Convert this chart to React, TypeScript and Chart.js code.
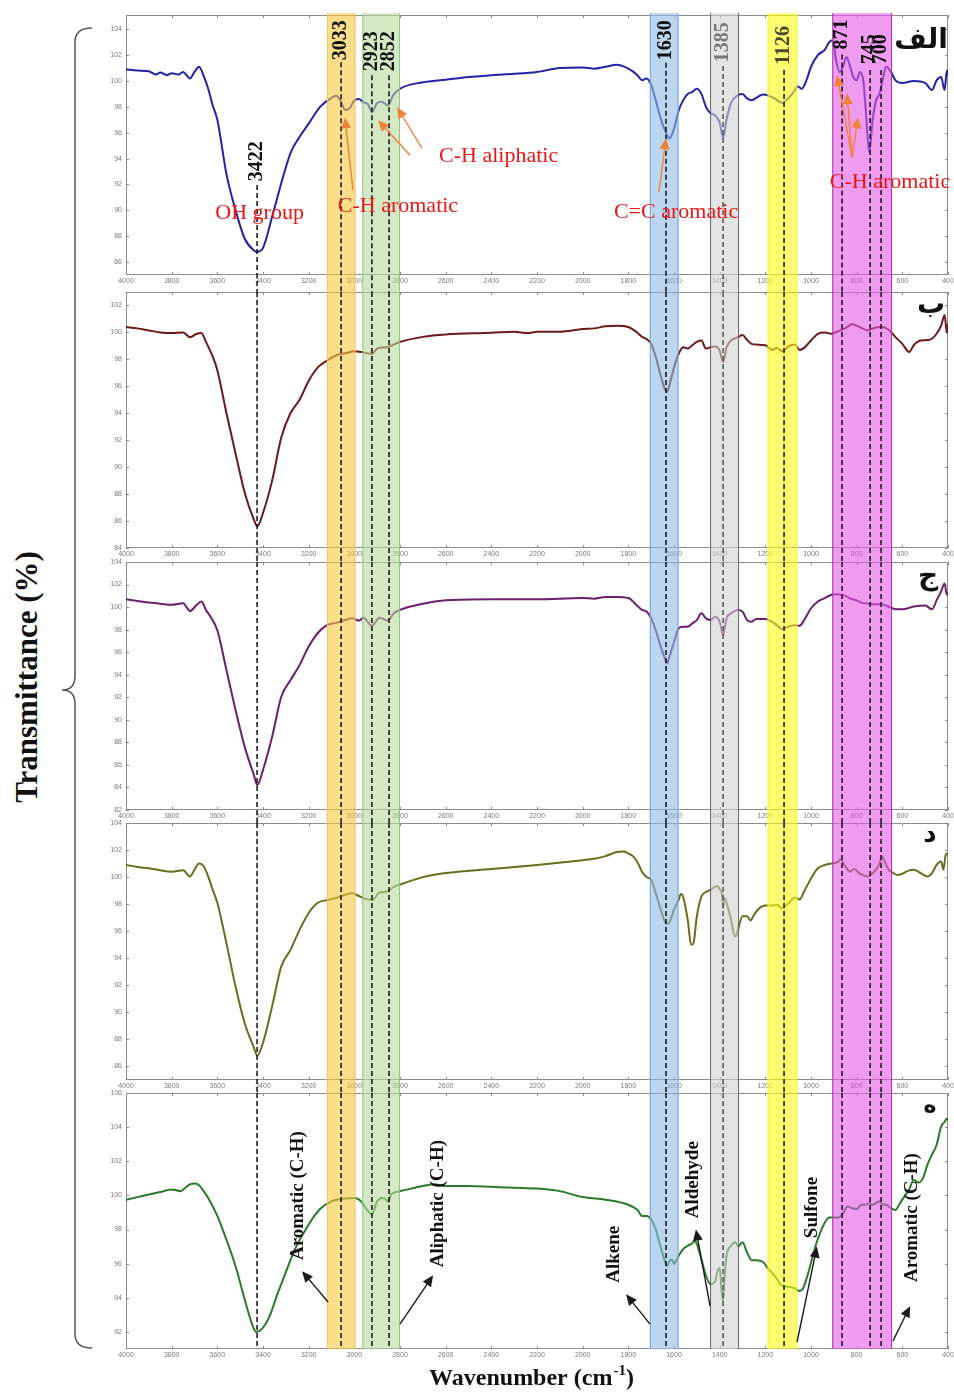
import React, { useEffect, useRef } from "react";
import { Chart, registerables } from "chart.js";
Chart.register(...registerables);

type Pt = [number, number];

// ---------- spectra (wavenumber cm-1, transmittance %) ----------
const spectrumA: Pt[] = [
  [4000, 100.9], [3950, 100.8], [3900, 100.75], [3870, 100.5], [3850, 100.65], [3820, 100.45], [3800, 100.6],
  [3770, 100.5], [3750, 100.7], [3720, 100.2], [3700, 100.7], [3680, 101.1], [3660, 100.4], [3640, 99.4],
  [3620, 98.1], [3600, 97.0], [3560, 92.8], [3520, 90.0], [3480, 87.8], [3440, 86.9], [3425, 86.8], [3400, 87.1],
  [3360, 89.5], [3320, 92.1], [3280, 94.4], [3250, 95.4], [3200, 96.7], [3150, 98.0], [3100, 98.7], [3080, 98.85],
  [3060, 98.45], [3040, 97.75], [3020, 97.9], [3000, 98.5], [2980, 98.6], [2960, 98.35], [2940, 98.2], [2923, 97.6],
  [2900, 98.3], [2880, 98.4], [2852, 98.1], [2830, 98.9], [2800, 99.4], [2700, 99.9], [2600, 100.1], [2500, 100.3],
  [2400, 100.45], [2300, 100.55], [2200, 100.7], [2100, 101.0], [2000, 101.05], [1950, 100.95], [1900, 101.1],
  [1850, 101.25], [1800, 100.95], [1760, 100.45], [1740, 100.05], [1720, 100.2], [1700, 99.7], [1680, 98.5],
  [1660, 97.2], [1640, 96.2], [1620, 95.55], [1600, 96.3], [1580, 97.7], [1560, 98.5], [1540, 99.0], [1520, 99.15],
  [1500, 99.4], [1480, 99.0], [1460, 98.0], [1440, 97.5], [1420, 97.35], [1400, 96.8], [1385, 95.6], [1370, 97.0],
  [1350, 98.3], [1320, 98.9], [1300, 99.0], [1280, 98.65], [1260, 98.5], [1240, 98.7], [1210, 98.95], [1190, 98.9],
  [1160, 98.65], [1126, 98.3], [1100, 98.65], [1070, 99.3], [1060, 99.6], [1040, 99.4], [1020, 100.05], [1000, 101.1],
  [970, 102.0], [940, 102.4], [920, 103.0], [905, 103.15], [890, 101.6], [875, 100.7], [860, 101.1], [845, 101.85],
  [830, 101.2], [815, 100.3], [800, 100.05], [785, 100.7], [770, 99.9], [760, 97.7], [745, 94.5], [730, 97.0],
  [715, 98.5], [700, 99.0], [685, 100.2], [670, 101.1], [650, 100.7], [630, 100.05], [600, 99.85], [550, 100.0],
  [500, 99.85], [470, 99.3], [450, 100.05], [430, 100.3], [415, 99.3], [405, 100.8], [400, 100.4],
];

const spectrumB: Pt[] = [
  [4000, 100.4], [3950, 100.3], [3900, 100.15], [3850, 100.0], [3800, 99.95], [3750, 100.0], [3720, 99.65],
  [3690, 99.9], [3670, 99.95], [3650, 99.3], [3620, 98.2], [3600, 97.2], [3560, 94.0], [3520, 91.0], [3480, 88.1],
  [3440, 86.1], [3425, 85.6], [3400, 86.6], [3360, 89.0], [3320, 92.2], [3280, 94.0], [3240, 95.0], [3200, 96.4],
  [3160, 97.4], [3120, 97.9], [3080, 98.3], [3040, 98.45], [3000, 98.6], [2970, 98.55], [2923, 98.4], [2900, 98.8],
  [2860, 98.9], [2800, 99.3], [2700, 99.67], [2600, 99.85], [2400, 99.97], [2300, 100.05], [2240, 99.95],
  [2200, 100.05], [2100, 100.05], [2000, 100.25], [1950, 100.3], [1900, 100.45], [1850, 100.5], [1800, 100.4],
  [1760, 99.97], [1740, 99.67], [1720, 99.5], [1700, 99.15], [1680, 98.2], [1660, 96.9], [1640, 95.8], [1630, 95.6],
  [1620, 96.1], [1600, 97.4], [1580, 98.4], [1560, 98.9], [1540, 98.8], [1520, 99.05], [1500, 99.3], [1480, 99.4],
  [1460, 98.8], [1440, 98.9], [1420, 98.95], [1400, 98.65], [1385, 97.8], [1370, 98.9], [1350, 99.4], [1320, 99.65],
  [1300, 99.8], [1280, 99.45], [1260, 99.15], [1240, 99.1], [1200, 99.05], [1170, 98.7], [1150, 98.85], [1126, 98.6],
  [1100, 98.95], [1070, 99.1], [1050, 98.7], [1030, 98.85], [1000, 99.4], [970, 99.9], [940, 100.0], [910, 99.9],
  [880, 100.1], [850, 100.3], [820, 100.6], [800, 100.5], [775, 100.3], [750, 100.15], [720, 100.35], [690, 100.4],
  [660, 100.2], [630, 99.65], [600, 99.15], [570, 98.55], [550, 99.05], [520, 99.4], [480, 99.45], [450, 99.9],
  [430, 100.5], [415, 101.3], [405, 100.0], [400, 100.6],
];

const spectrumC: Pt[] = [
  [4000, 100.7], [3950, 100.55], [3900, 100.4], [3850, 100.3], [3800, 100.2], [3750, 100.35], [3720, 99.65],
  [3690, 100.2], [3670, 100.5], [3650, 99.75], [3630, 99.15], [3600, 97.95], [3560, 94.4], [3520, 90.85],
  [3480, 87.6], [3440, 85.1], [3425, 84.2], [3400, 85.55], [3360, 88.5], [3320, 92.05], [3280, 93.5], [3240, 94.85],
  [3200, 96.5], [3160, 97.7], [3120, 98.4], [3080, 98.6], [3040, 98.85], [3010, 99.0], [2980, 98.8], [2960, 99.05],
  [2923, 98.35], [2890, 99.05], [2852, 98.8], [2830, 99.4], [2800, 99.75], [2700, 100.3], [2600, 100.6],
  [2400, 100.7], [2200, 100.7], [2000, 100.8], [1950, 100.75], [1900, 100.9], [1850, 100.9], [1800, 100.8],
  [1760, 100.1], [1740, 99.75], [1720, 99.6], [1700, 99.0], [1680, 97.95], [1660, 96.6], [1640, 95.45], [1630, 95.0],
  [1620, 95.6], [1600, 96.9], [1580, 98.1], [1560, 98.25], [1540, 98.25], [1520, 98.55], [1500, 98.85], [1480, 99.45],
  [1460, 99.0], [1440, 98.85], [1420, 99.15], [1400, 98.7], [1385, 97.5], [1370, 99.0], [1350, 99.45], [1320, 99.75],
  [1300, 99.6], [1280, 98.85], [1260, 98.7], [1240, 98.95], [1200, 98.95], [1170, 98.7], [1150, 98.4], [1126, 98.05],
  [1100, 98.25], [1070, 98.4], [1050, 98.35], [1030, 98.85], [1000, 99.9], [970, 100.5], [940, 100.8], [910, 101.1],
  [880, 101.15], [850, 101.0], [820, 100.7], [800, 100.6], [775, 100.35], [745, 100.3], [720, 100.25], [690, 100.25],
  [660, 100.05], [630, 99.8], [600, 99.8], [550, 100.05], [500, 100.15], [470, 99.8], [450, 100.6], [430, 101.4],
  [415, 102.1], [405, 101.1], [400, 101.3],
];

const spectrumD: Pt[] = [
  [4000, 100.9], [3950, 100.75], [3900, 100.65], [3850, 100.5], [3800, 100.4], [3750, 100.5], [3720, 100.05],
  [3700, 100.55], [3680, 101.0], [3660, 100.8], [3640, 100.05], [3620, 99.05], [3600, 98.1], [3560, 95.1],
  [3520, 91.9], [3480, 89.2], [3440, 87.4], [3425, 86.8], [3400, 87.75], [3360, 90.45], [3320, 93.4], [3280, 94.6],
  [3240, 96.1], [3200, 97.35], [3160, 98.1], [3120, 98.3], [3080, 98.45], [3040, 98.7], [3010, 98.8], [2980, 98.6],
  [2960, 98.45], [2923, 98.3], [2890, 98.85], [2852, 98.95], [2830, 99.25], [2800, 99.45], [2700, 100.0],
  [2600, 100.3], [2400, 100.6], [2200, 100.9], [2000, 101.25], [1950, 101.35], [1900, 101.55], [1850, 101.85],
  [1820, 101.9], [1800, 101.75], [1780, 101.55], [1760, 101.1], [1740, 100.4], [1720, 100.0], [1700, 99.8],
  [1680, 98.8], [1660, 97.7], [1640, 96.7], [1630, 96.55], [1620, 96.65], [1600, 97.6], [1580, 98.3], [1570, 98.75],
  [1560, 98.55], [1540, 96.85], [1525, 95.0], [1515, 95.1], [1500, 97.1], [1480, 98.55], [1460, 98.9], [1440, 99.05],
  [1420, 99.3], [1410, 99.35], [1400, 99.1], [1390, 98.7], [1385, 97.7], [1380, 98.5], [1370, 98.1], [1350, 96.85],
  [1340, 95.95], [1330, 95.6], [1320, 96.1], [1300, 97.1], [1280, 97.1], [1265, 96.8], [1250, 97.2], [1230, 97.65],
  [1200, 97.9], [1170, 97.9], [1150, 97.95], [1126, 97.7], [1100, 98.05], [1070, 98.5], [1050, 98.35], [1030, 98.95],
  [1000, 99.9], [970, 100.65], [940, 100.9], [910, 101.0], [880, 101.15], [871, 101.3], [850, 100.8], [830, 100.4],
  [810, 100.6], [790, 100.3], [770, 100.15], [750, 100.05], [730, 100.3], [715, 100.55], [700, 101.0], [690, 101.55],
  [680, 101.25], [660, 100.55], [640, 100.3], [620, 100.15], [600, 100.25], [570, 100.5], [550, 100.55], [520, 100.3],
  [490, 100.05], [470, 100.3], [450, 100.9], [430, 101.15], [420, 100.55], [410, 101.65], [400, 101.75],
];

const spectrumE: Pt[] = [
  [4000, 99.75], [3950, 99.9], [3900, 100.05], [3850, 100.2], [3800, 100.35], [3760, 100.25], [3740, 100.45],
  [3720, 100.65], [3700, 100.7], [3680, 100.6], [3660, 100.25], [3640, 99.85], [3600, 98.8], [3560, 97.4],
  [3520, 95.85], [3480, 93.9], [3450, 92.55], [3430, 92.0], [3400, 92.25], [3370, 92.95], [3340, 94.1], [3300, 95.5],
  [3260, 96.85], [3200, 98.3], [3150, 99.2], [3100, 99.65], [3050, 99.8], [3000, 99.85], [2970, 99.65], [2950, 99.25],
  [2923, 98.9], [2900, 99.65], [2880, 99.85], [2860, 99.75], [2852, 99.6], [2840, 100.05], [2800, 100.25],
  [2700, 100.55], [2650, 100.65], [2600, 100.55], [2500, 100.55], [2400, 100.5], [2300, 100.45], [2200, 100.4],
  [2100, 100.25], [2000, 99.9], [1900, 99.75], [1800, 99.45], [1760, 99.15], [1740, 98.8], [1720, 98.8], [1700, 98.6],
  [1680, 98.0], [1660, 97.05], [1640, 96.15], [1630, 95.85], [1620, 96.15], [1610, 96.25], [1600, 96.0], [1580, 96.45],
  [1560, 96.85], [1540, 97.05], [1520, 97.2], [1510, 97.35], [1500, 97.15], [1480, 96.25], [1460, 95.3], [1440, 94.8],
  [1420, 94.95], [1410, 95.55], [1400, 95.75], [1392, 94.5], [1385, 93.8], [1378, 95.3], [1370, 96.45], [1350, 97.05],
  [1330, 97.25], [1320, 97.0], [1300, 97.25], [1280, 96.65], [1260, 96.2], [1240, 96.2], [1210, 96.1], [1190, 95.75],
  [1160, 95.3], [1126, 94.7], [1100, 94.65], [1070, 94.55], [1050, 94.4], [1035, 94.55], [1020, 95.1], [1000, 96.05],
  [980, 97.05], [960, 97.8], [940, 98.4], [920, 98.7], [900, 98.7], [880, 98.7], [860, 98.95], [840, 99.35],
  [820, 99.25], [800, 99.2], [780, 99.45], [760, 99.45], [745, 99.55], [730, 99.45], [710, 99.6], [700, 99.65],
  [690, 99.5], [670, 99.45], [650, 99.25], [630, 99.15], [610, 99.55], [590, 99.95], [570, 100.35], [550, 100.9],
  [530, 100.75], [510, 101.0], [490, 101.8], [470, 102.4], [450, 102.95], [430, 104.05], [415, 104.3], [405, 104.5],
  [400, 104.4],
];

// ---------- axes ----------
const xTicks = [4000, 3800, 3600, 3400, 3200, 3000, 2800, 2600, 2400, 2200, 2000, 1800, 1600, 1400, 1200, 1000, 800, 600, 400];
const yTicksA = [86, 88, 90, 92, 94, 96, 98, 100, 102, 104];
const yTicksB = [84, 86, 88, 90, 92, 94, 96, 98, 100, 102];
const yTicksC = [82, 84, 86, 88, 90, 92, 94, 96, 98, 100, 102, 104];
const yTicksD = [86, 88, 90, 92, 94, 96, 98, 100, 102, 104];
const yTicksE = [92, 94, 96, 98, 100, 102, 104, 106];

// ---------- highlighted bands (cm-1) ----------
const bandStart = [3120, 2965, 1706, 1442, 1190, 907];
const bandEnd = [2995, 2800, 1580, 1315, 1060, 645];
const bandFill = [
  "rgba(247,200,63,0.6)", "rgba(183,217,157,0.6)", "rgba(143,187,230,0.6)",
  "rgba(210,210,210,0.6)", "rgba(255,255,20,0.6)", "rgba(228,88,228,0.6)",
];
const bandEdge = ["rgba(240,200,90,0.9)", "rgba(140,195,120,0.9)", "rgba(110,160,215,0.9)", "rgba(90,90,90,0.9)", "rgba(240,240,60,0.9)", "rgba(170,40,170,0.9)"];

// ---------- peak markers ----------
const peakLinePos = [3426, 3058, 2923, 2848, 1635, 1385, 1118, 864, 741, 693];
const peakLabels = ["3422", "3033", "2923", "2852", "1630", "1385", "1126", "871", "745", "700"];
const peakLabelY = [93.8, 103.15, 102.3, 102.3, 103.15, 103.0, 102.75, 103.6, 102.45, 102.45];
const peakLineTop = [91.95, 101.45, 100.45, 100.45, 101.4, 101.15, 100.85, 102.05, 100.85, 100.85];
const peakColor = ["#111", "#111", "#111", "#111", "#111", "#777", "#4a4a2a", "#111", "#111", "#111"];

// ---------- annotations on panel A ----------
const redNotes = ["OH group", "C-H aromatic", "C-H aliphatic", "C=C aromatic", "C-H aromatic"];
const redNoteX = [3415, 2809, 2368, 1591, 654];
const redNoteY = [89.8, 90.3, 94.2, 89.85, 92.2];
const orangeFrom: Pt[] = [[3006, 91.55], [2756, 94.26], [2704, 94.8], [1666, 91.4], [820, 94.1], [820, 94.1], [820, 94.1]];
const orangeTo: Pt[] = [[3041, 97.2], [2896, 96.97], [2813, 97.97], [1635, 95.58], [886, 100.45], [842, 99.05], [794, 97.2]];

// ---------- annotations on panel E ----------
const groupNotes = ["Aromatic (C-H)", "Aliphatic (C-H)", "Alkene", "Aldehyde", "Sulfone", "Aromatic (C-H)"];
const groupNoteX = [3247, 2634, 1863, 1517, 996, 557];
const groupNoteY = [99.99, 99.52, 96.55, 100.92, 99.29, 98.7];
const groupFrom: Pt[] = [[3115, 93.75], [2800, 92.46], [1705, 92.46], [1442, 93.51], [1061, 91.41], [641, 91.47]];
const groupTo: Pt[] = [[3229, 95.56], [2655, 95.32], [1810, 94.21], [1504, 98.0], [974, 97.0], [566, 93.51]];

// ---------- panel tags ----------
const panelTags = ["الف", "ب", "ج", "د", "ه"];
const tagX = [518, 474, 487, 479, 479];
const tagY = [103.15, 102.0, 102.67, 103.1, 105.2];
const tagSize = [28, 28, 28, 26, 22];

const SERIF = '"Liberation Serif", "Times New Roman", serif';
const SANS = '"Liberation Sans", Arial, sans-serif';

interface PanelSpec {
  index: number;
  data: Pt[];
  color: string;
  yMin: number;
  yMax: number;
  yTicks: number[];
  top: number;
  height: number;
  padTop: number;
  xAxisH: number;
}

const panels: PanelSpec[] = [
  { index: 0, data: spectrumA, color: "#2323a6", yMin: 85, yMax: 105.1, yTicks: yTicksA, top: 0, height: 292, padTop: 15, xAxisH: 17 },
  { index: 1, data: spectrumB, color: "#6e1818", yMin: 84, yMax: 103, yTicks: yTicksB, top: 284, height: 278, padTop: 8, xAxisH: 14 },
  { index: 2, data: spectrumC, color: "#6e1e6e", yMin: 82, yMax: 104, yTicks: yTicksC, top: 554, height: 269, padTop: 8, xAxisH: 13 },
  { index: 3, data: spectrumD, color: "#6c6c1e", yMin: 85, yMax: 104, yTicks: yTicksD, top: 815, height: 278, padTop: 8, xAxisH: 13 },
  { index: 4, data: spectrumE, color: "#2a7a2a", yMin: 91, yMax: 106, yTicks: yTicksE, top: 1085, height: 307, padTop: 8, xAxisH: 43 },
];

function drawArrow(ctx: CanvasRenderingContext2D, x1: number, y1: number, x2: number, y2: number, color: string, head: number, width: number) {
  const a = Math.atan2(y2 - y1, x2 - x1);
  ctx.save();
  ctx.setLineDash([]);
  ctx.strokeStyle = color;
  ctx.fillStyle = color;
  ctx.lineWidth = width;
  ctx.beginPath();
  ctx.moveTo(x1, y1);
  ctx.lineTo(x2 - Math.cos(a) * head * 0.8, y2 - Math.sin(a) * head * 0.8);
  ctx.stroke();
  const bx = x2 - head * Math.cos(a);
  const by = y2 - head * Math.sin(a);
  const w = head * 0.45;
  ctx.beginPath();
  ctx.moveTo(x2, y2);
  ctx.lineTo(bx + w * Math.sin(a), by - w * Math.cos(a));
  ctx.lineTo(bx - w * Math.sin(a), by + w * Math.cos(a));
  ctx.closePath();
  ctx.fill();
  ctx.restore();
}

function rotatedText(ctx: CanvasRenderingContext2D, text: string, x: number, y: number, font: string, color: string) {
  ctx.save();
  ctx.translate(x, y);
  ctx.rotate(-Math.PI / 2);
  ctx.font = font;
  ctx.fillStyle = color;
  ctx.textAlign = "center";
  ctx.textBaseline = "middle";
  ctx.fillText(text, 0, 0);
  ctx.restore();
}

function makeOverlay(spec: PanelSpec) {
  return {
    id: "overlay" + spec.index,
    beforeDatasetsDraw(chart: any) {
      const { ctx, chartArea: ca } = chart;
      const xs = chart.scales.x;
      const ys = chart.scales.y;
      ctx.save();
      ctx.strokeStyle = "#8c8c8c";
      ctx.lineWidth = 1;
      ctx.strokeRect(ca.left + 0.5, ca.top + 0.5, ca.right - ca.left - 1, ca.bottom - ca.top - 1);
      ctx.beginPath();
      xTicks.forEach((v) => {
        const px = Math.round(xs.getPixelForValue(v)) + 0.5;
        ctx.moveTo(px, ca.bottom);
        ctx.lineTo(px, ca.bottom - 3);
        ctx.moveTo(px, ca.top);
        ctx.lineTo(px, ca.top + 3);
      });
      spec.yTicks.forEach((v) => {
        const py = Math.round(ys.getPixelForValue(v)) + 0.5;
        ctx.moveTo(ca.left, py);
        ctx.lineTo(ca.left + 3, py);
        ctx.moveTo(ca.right, py);
        ctx.lineTo(ca.right - 3, py);
      });
      ctx.stroke();
      ctx.restore();
    },
    afterDatasetsDraw(chart: any) {
      const { ctx, chartArea: ca } = chart;
      const xs = chart.scales.x;
      const ys = chart.scales.y;
      const i = spec.index;
      const y0 = i === 0 ? ys.getPixelForValue(105.24) : ca.top;
      const y1 = i === 4 ? ca.bottom : chart.height;
      ctx.save();
      // bands
      for (let b = 0; b < bandStart.length; b++) {
        const xa = xs.getPixelForValue(bandStart[b]);
        const xb = xs.getPixelForValue(bandEnd[b]);
        const l = Math.min(xa, xb);
        const w = Math.abs(xb - xa);
        ctx.fillStyle = bandFill[b];
        ctx.fillRect(l, y0, w, y1 - y0);
        ctx.strokeStyle = bandEdge[b];
        ctx.lineWidth = 1;
        ctx.beginPath();
        ctx.moveTo(l + 0.5, y0);
        ctx.lineTo(l + 0.5, y1);
        ctx.moveTo(l + w - 0.5, y0);
        ctx.lineTo(l + w - 0.5, y1);
        ctx.stroke();
      }
      // dashed peak lines
      ctx.setLineDash([5, 3]);
      ctx.lineWidth = 1.5;
      for (let p = 0; p < peakLinePos.length; p++) {
        const px = xs.getPixelForValue(peakLinePos[p]);
        const ps = i === 0 ? ys.getPixelForValue(peakLineTop[p]) : ca.top;
        ctx.strokeStyle = p === 5 ? "#555" : "#111";
        ctx.beginPath();
        ctx.moveTo(px, ps);
        ctx.lineTo(px, y1);
        ctx.stroke();
      }
      ctx.setLineDash([]);

      if (i === 0) {
        for (let p = 0; p < peakLabels.length; p++) {
          rotatedText(ctx, peakLabels[p], xs.getPixelForValue(peakLinePos[p]), ys.getPixelForValue(peakLabelY[p]), `bold 20px ${SERIF}`, peakColor[p]);
        }
        ctx.font = `22px ${SERIF}`;
        ctx.fillStyle = "#ee1414";
        ctx.textAlign = "center";
        ctx.textBaseline = "middle";
        for (let n = 0; n < redNotes.length; n++) {
          ctx.fillText(redNotes[n], xs.getPixelForValue(redNoteX[n]), ys.getPixelForValue(redNoteY[n]));
        }
        for (let n = 0; n < orangeFrom.length; n++) {
          drawArrow(ctx, xs.getPixelForValue(orangeFrom[n][0]), ys.getPixelForValue(orangeFrom[n][1]),
            xs.getPixelForValue(orangeTo[n][0]), ys.getPixelForValue(orangeTo[n][1]), "#f0823a", 11, 1.4);
        }
      }
      if (i === 4) {
        for (let n = 0; n < groupNotes.length; n++) {
          rotatedText(ctx, groupNotes[n], xs.getPixelForValue(groupNoteX[n]), ys.getPixelForValue(groupNoteY[n]), `bold 19px ${SERIF}`, "#111");
        }
        for (let n = 0; n < groupFrom.length; n++) {
          drawArrow(ctx, xs.getPixelForValue(groupFrom[n][0]), ys.getPixelForValue(groupFrom[n][1]),
            xs.getPixelForValue(groupTo[n][0]), ys.getPixelForValue(groupTo[n][1]), "#1a1a1a", 11, 1.4);
        }
        // axis title with superscript
        const main = "Wavenumber (cm";
        const sup = "-1";
        const close = ")";
        const fMain = `bold 24px ${SERIF}`;
        const fSup = `bold 15px ${SERIF}`;
        ctx.font = fMain;
        const w1 = ctx.measureText(main).width;
        const w3 = ctx.measureText(close).width;
        ctx.font = fSup;
        const w2 = ctx.measureText(sup).width;
        const total = w1 + w2 + w3;
        const cx = (ca.left + ca.right) / 2 - 6;
        let x = cx - total / 2;
        const base = ca.bottom + 36;
        ctx.fillStyle = "#111";
        ctx.textAlign = "left";
        ctx.textBaseline = "alphabetic";
        ctx.font = fMain;
        ctx.fillText(main, x, base);
        x += w1;
        ctx.font = fSup;
        ctx.fillText(sup, x + 1, base - 10);
        x += w2 + 1;
        ctx.font = fMain;
        ctx.fillText(close, x, base);
      }
      // panel tag
      ctx.font = `bold ${tagSize[i]}px "DejaVu Sans", sans-serif`;
      ctx.fillStyle = "#111";
      ctx.textAlign = "center";
      ctx.textBaseline = "middle";
      ctx.fillText(panelTags[i], xs.getPixelForValue(tagX[i]), ys.getPixelForValue(tagY[i]));
      ctx.restore();
    },
  };
}

function Panel({ spec }: { spec: PanelSpec }) {
  const ref = useRef<HTMLCanvasElement>(null);
  useEffect(() => {
    const canvas = ref.current;
    if (!canvas) return;
    const chart = new Chart(canvas, {
      type: "line",
      data: {
        datasets: [
          {
            data: spec.data.map(([x, y]) => ({ x, y })),
            borderColor: spec.color,
            borderWidth: 2,
            pointRadius: 0,
            cubicInterpolationMode: "monotone",
            fill: false,
          },
        ],
      },
      options: {
        responsive: false,
        animation: false,
        devicePixelRatio: 1,
        events: [],
        layout: { padding: { top: spec.padTop, right: 6, bottom: 0, left: 0 } },
        plugins: { legend: { display: false }, tooltip: { enabled: false }, title: { display: false } },
        scales: {
          x: {
            type: "linear",
            reverse: true,
            min: 400,
            max: 4000,
            grid: { display: false, drawTicks: false },
            border: { display: false },
            ticks: {
              font: { size: 7, family: SANS },
              color: "#7a7a7a",
              padding: 2,
              autoSkip: false,
              maxRotation: 0,
              callback: (v: any) => String(v),
            },
            afterBuildTicks: (s: any) => {
              s.ticks = xTicks.map((v) => ({ value: v }));
            },
            afterFit: (s: any) => {
              s.height = spec.xAxisH;
              s.paddingLeft = 0;
              s.paddingRight = 0;
            },
          },
          y: {
            type: "linear",
            min: spec.yMin,
            max: spec.yMax,
            grid: { display: false, drawTicks: false },
            border: { display: false },
            ticks: {
              font: { size: 7, family: SANS },
              color: "#7a7a7a",
              padding: 4,
              autoSkip: false,
              callback: (v: any) => String(v),
            },
            afterBuildTicks: (s: any) => {
              s.ticks = spec.yTicks.map((v) => ({ value: v }));
            },
            afterFit: (s: any) => {
              s.width = 126;
              s.paddingTop = 0;
              s.paddingBottom = 0;
            },
          },
        },
      } as any,
      plugins: [makeOverlay(spec)],
    });
    return () => chart.destroy();
  }, [spec]);
  return (
    <canvas
      ref={ref}
      width={954}
      height={spec.height}
      style={{ position: "absolute", left: 0, top: spec.top, width: 954, height: spec.height, display: "block" }}
    />
  );
}

export default function App() {
  return (
    <div style={{ position: "absolute", left: 0, top: 0, width: 954, height: 1392, overflow: "hidden", background: "#fff" }}>
      <svg width={954} height={1392} style={{ position: "absolute", left: 0, top: 0 }}>
        <path
          d="M 92 28 Q 75 28 75 42 L 75 676 Q 75 690 62 690 Q 75 690 75 704 L 75 1334 Q 75 1348 92 1348"
          fill="none"
          stroke="#555"
          strokeWidth={1.5}
        />
      </svg>
      <div
        style={{
          position: "absolute",
          left: 27,
          top: 677,
          transform: "translate(-50%, -50%) rotate(-90deg)",
          whiteSpace: "nowrap",
          font: `bold 31px ${SERIF}`,
          color: "#111",
        }}
      >
        Transmittance (%)
      </div>
      {panels.map((p) => (
        <Panel key={p.index} spec={p} />
      ))}
    </div>
  );
}
